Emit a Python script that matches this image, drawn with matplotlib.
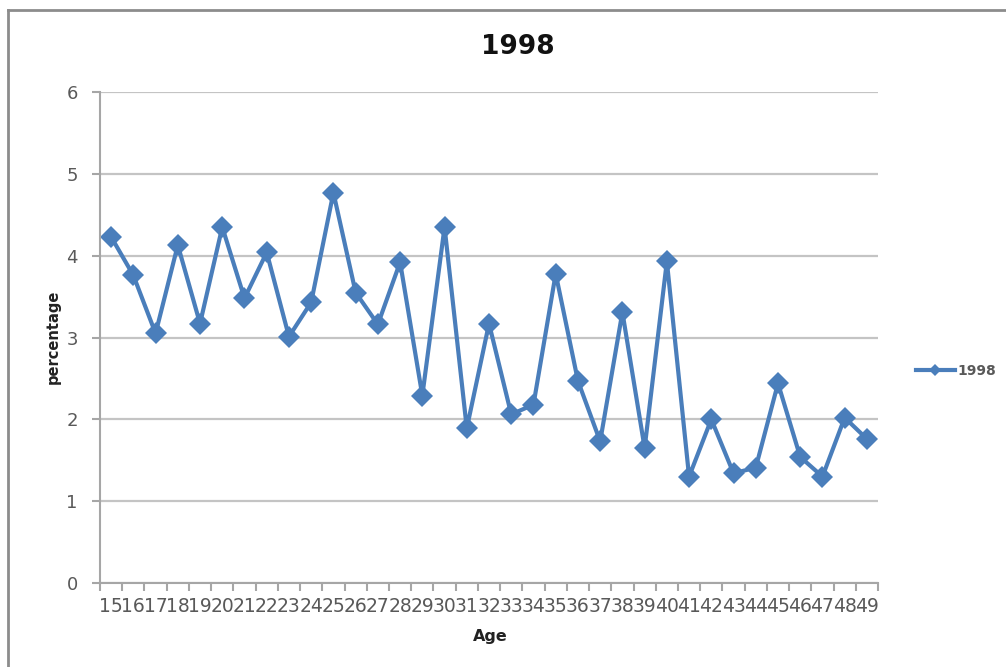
import matplotlib.pyplot as plt
from matplotlib.lines import Line2D
from matplotlib.ticker import FixedLocator

ages = [str(a) for a in range(15, 50)]
pct_1998 = [4.23, 3.76, 3.05, 4.13, 3.17, 4.35, 3.48, 4.04, 3.01, 3.43,
            4.77, 3.55, 3.16, 3.92, 2.29, 4.35, 1.89, 3.17, 2.06, 2.18,
            3.78, 2.47, 1.73, 3.31, 1.65, 3.93, 1.30, 2.00, 1.34, 1.41,
            2.44, 1.54, 1.30, 2.02, 1.76]
y_ticks = [0, 1, 2, 3, 4, 5, 6]

blue = '#4a7ebb'
grid_col = '#c4c4c4'
text_col = '#595959'

fig = plt.figure(figsize=(10.06, 6.67), dpi=100)
ax = fig.add_axes([0.0994, 0.126, 0.7734, 0.736])

x = list(range(len(ages)))
ax.plot(x, pct_1998, color=blue, lw=3, marker='D', ms=11, mew=0, label='1998',
        solid_joinstyle='round')

ax.set_xlim(-0.5, len(ages) - 0.5)
ax.set_ylim(0, 6)

# labels sit at category centres, tick marks on category boundaries
ax.set_xticks(x)
ax.set_xticklabels(ages)
ax.xaxis.set_minor_locator(FixedLocator([i - 0.5 for i in range(len(ages) + 1)]))
ax.tick_params(axis='x', which='major', length=0, pad=10, labelsize=13.5,
               labelcolor=text_col)
ax.tick_params(axis='x', which='minor', length=6, width=1.5, color='#a6a6a6')

ax.set_yticks(y_ticks)
ax.tick_params(axis='y', length=6, width=1.5, color='#a6a6a6', pad=10,
               labelsize=13, labelcolor=text_col)

ax.grid(axis='y', color=grid_col, lw=1.6)
ax.set_axisbelow(True)
for side in ('top', 'right'):
    ax.spines[side].set_visible(False)
for side in ('left', 'bottom'):
    ax.spines[side].set_color('#a6a6a6')
    ax.spines[side].set_linewidth(1.5)

fig.text(0.5145, 0.93, '1998', ha='center', va='center', fontsize=19,
         fontweight='bold', color='#111111')
fig.text(0.053, 0.495, 'percentage', ha='center', va='center', rotation=90,
         fontsize=10.5, fontweight='bold', color='#222222')
fig.text(0.4875, 0.045, 'Age', ha='center', va='center', fontsize=11.5,
         fontweight='bold', color='#222222')

handle = Line2D([], [], color=blue, lw=3, marker='D', ms=6, mew=0)
fig.legend([handle], ['1998'], loc='center left', bbox_to_anchor=(0.898, 0.444),
           frameon=False, handlelength=2.8, handletextpad=0.2,
           prop={'size': 10, 'weight': 'bold'}, labelcolor=text_col)

# chart area frame along the top and left edges
fig.add_artist(Line2D([0.008, 1.0], [0.985, 0.985], color='#8c8c8c', lw=2,
                      transform=fig.transFigure))
fig.add_artist(Line2D([0.008, 0.008], [0.0, 0.985], color='#8c8c8c', lw=2,
                      transform=fig.transFigure))

fig.savefig('out.png', dpi=100, facecolor='white')
